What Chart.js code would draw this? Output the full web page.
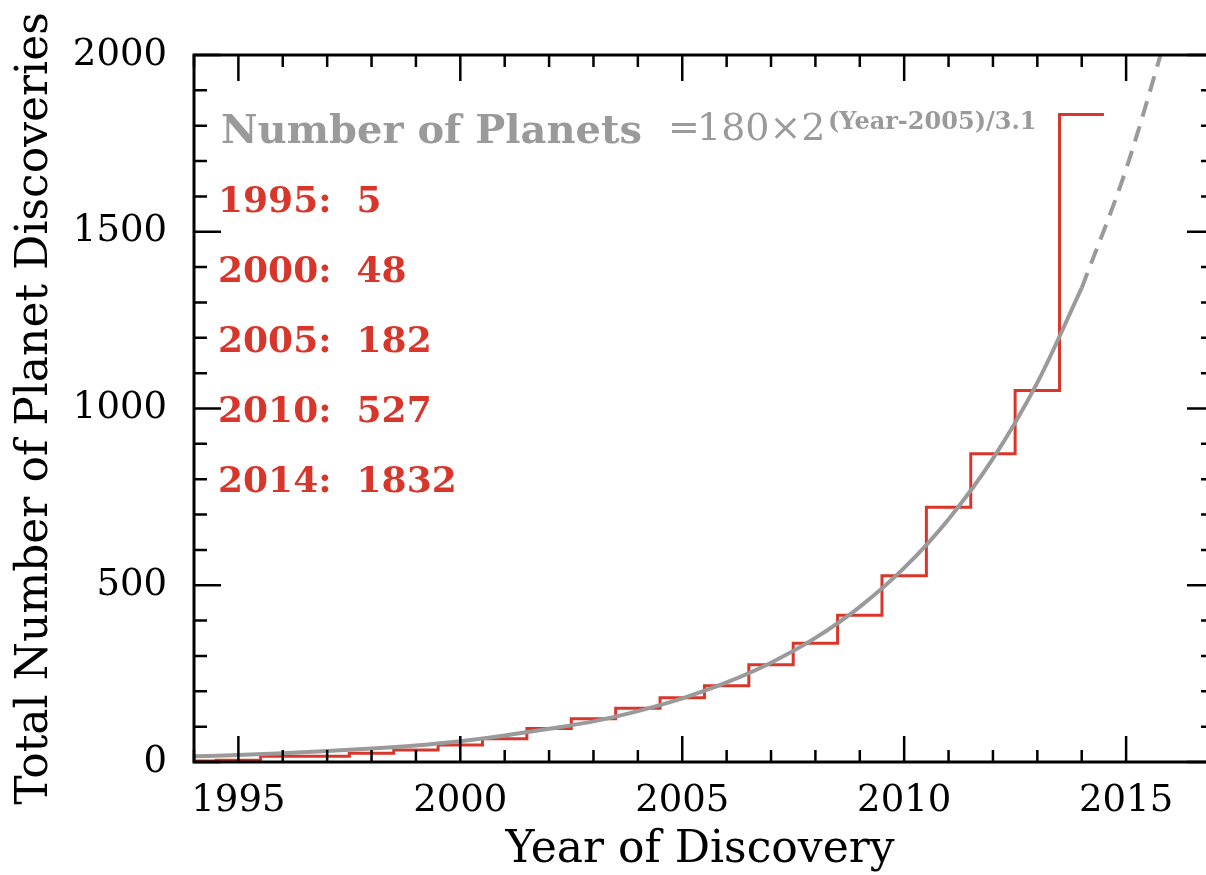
<!DOCTYPE html>
<html>
<head>
<meta charset="utf-8">
<title>Total Number of Planet Discoveries</title>
<script src="https://cdn.jsdelivr.net/npm/chart.js@4.4.1/dist/chart.umd.min.js"></script>
<style>
  body { margin: 0; background: #fff; }
  #wrap { width: 1206px; height: 875px; }
</style>
</head>
<body>
<div id="wrap"><canvas id="chart" width="1206" height="875"></canvas></div>
<script>
// cumulative number of planets at the end of each year
const years = [1994, 1995, 1996, 1997, 1998, 1999, 2000, 2001, 2002, 2003, 2004,
  2005, 2006, 2007, 2008, 2009, 2010, 2011, 2012, 2013, 2014];
const totals = [3, 5, 16, 16, 25, 34, 48, 66, 95, 122, 152,
  182, 216, 275, 336, 415, 527, 721, 872, 1051, 1832];

// grey fitted curve, read at whole years (solid part)
const fitYears = [1994, 1995, 1996, 1997, 1998, 1999, 2000, 2001, 2002, 2003, 2004,
  2005, 2006, 2007, 2008, 2009, 2010, 2011, 2012, 2013, 2014];
const fitValues = [16, 20, 25, 31, 38, 47, 59, 75, 94, 115, 144,
  180, 225, 281, 351, 439, 549, 687, 858, 1073, 1341];

// dashed extrapolation of the fit
const extraYears = [2014, 2015, 2016];
const extraValues = [1341, 1677, 2096];

// years quoted in the red text
const calloutYears = [1995, 2000, 2005, 2010, 2014];

const red = "#d8362b";
const grey = "#9a9a9a";
const serif = "DejaVu Serif";

// red steps are centred on each year
const steps = years.map((yr, i) => ({ x: yr - 0.5, y: totals[i] }));
steps.push({ x: years[years.length - 1] + 0.5, y: totals[totals.length - 1] });

// frame with inward ticks on all four sides
const frameTicks = {
  id: "frameTicks",
  afterDatasetsDraw(chart) {
    const { ctx, chartArea: a, scales: { x, y } } = chart;
    const right = a.right + 8;
    ctx.save();
    ctx.strokeStyle = "#000";
    ctx.lineWidth = 3;
    ctx.beginPath();
    ctx.moveTo(right, a.top);
    ctx.lineTo(a.left, a.top);
    ctx.lineTo(a.left, a.bottom);
    ctx.lineTo(right, a.bottom);
    ctx.stroke();

    ctx.lineWidth = 2.5;
    ctx.beginPath();
    x.ticks.forEach((t) => {
      if (!Number.isInteger(t.value)) return;
      const px = x.getPixelForValue(t.value);
      const len = t.value % 5 === 0 ? 26 : 12;
      ctx.moveTo(px, a.bottom);
      ctx.lineTo(px, a.bottom - len);
      ctx.moveTo(px, a.top);
      ctx.lineTo(px, a.top + len);
    });
    y.ticks.forEach((t) => {
      const py = y.getPixelForValue(t.value);
      const len = t.value % 500 === 0 ? 27 : 13;
      ctx.moveTo(a.left, py);
      ctx.lineTo(a.left + len, py);
      ctx.moveTo(right, py);
      ctx.lineTo(right - len, py);
    });
    ctx.stroke();
    ctx.restore();
  },
};

// formula and the quoted totals
const notes = {
  id: "notes",
  afterDraw(chart) {
    const { ctx, chartArea: a } = chart;
    const left = a.left + 26;
    ctx.save();
    ctx.textBaseline = "alphabetic";
    ctx.textAlign = "left";

    ctx.fillStyle = grey;
    ctx.font = `bold 40px "${serif}"`;
    ctx.fillText("Number of Planets", left + 1, 143);
    ctx.font = `38px "${serif}"`;
    ctx.fillText("=", 668, 140);
    ctx.fillText("180\u00d72", 697, 140);
    ctx.font = `bold 24px "${serif}"`;
    ctx.fillText("(Year-2005)/3.1", 828, 129);

    ctx.fillStyle = red;
    ctx.font = `bold 36px "${serif}"`;
    calloutYears.forEach((yr, i) => {
      const n = totals[years.indexOf(yr)];
      ctx.fillText(`${yr}:  ${n}`, left - 2, 212 + i * 70);
    });
    ctx.restore();
  },
};

new Chart(document.querySelector("#chart"), {
  type: "line",
  data: {
    datasets: [
      {
        label: "fit",
        data: fitYears.map((yr, i) => ({ x: yr, y: fitValues[i] })),
        borderColor: grey,
        borderWidth: 4,
        pointRadius: 0,
        cubicInterpolationMode: "monotone",
        order: 0,
      },
      {
        label: "fit extrapolated",
        data: extraYears.map((yr, i) => ({ x: yr, y: extraValues[i] })),
        borderColor: grey,
        borderWidth: 4,
        borderDash: [16, 10],
        pointRadius: 0,
        cubicInterpolationMode: "monotone",
        order: 0,
      },
      {
        label: "total",
        data: steps,
        borderColor: red,
        borderWidth: 3,
        stepped: "before",
        pointRadius: 0,
        order: 1,
      },
    ],
  },
  options: {
    responsive: false,
    animation: false,
    layout: { padding: { top: 55, right: 0, bottom: 0, left: 0 } },
    plugins: { legend: { display: false }, tooltip: { enabled: false } },
    scales: {
      x: {
        type: "linear",
        min: 1994,
        max: 2016.8,
        grid: { display: false, drawTicks: false },
        border: { display: false },
        ticks: {
          stepSize: 1,
          autoSkip: false,
          maxRotation: 0,
          minRotation: 0,
          padding: 17,
          color: "#000",
          font: { family: serif, size: 37 },
          callback: (v) => (v % 5 === 0 ? String(v) : ""),
        },
        title: {
          display: true,
          text: "Year of Discovery",
          color: "#000",
          font: { family: serif, size: 44, lineHeight: 1.1 },
          padding: { top: 0, bottom: 0 },
        },
        afterFit: (s) => {
          s.height = 113;
          s.paddingLeft = 0;
          s.paddingRight = 0;
        },
      },
      y: {
        min: 0,
        max: 2000,
        grid: { display: false, drawTicks: false },
        border: { display: false },
        ticks: {
          stepSize: 100,
          autoSkip: false,
          padding: 27,
          color: "#000",
          font: { family: serif, size: 37 },
          callback: (v) => (v % 500 === 0 ? String(v) : ""),
        },
        title: {
          display: true,
          text: "Total Number of Planet Discoveries",
          color: "#000",
          font: { family: serif, size: 44 },
          padding: { top: 9, bottom: 0 },
        },
        afterFit: (s) => { s.width = 194; },
      },
    },
  },
  plugins: [frameTicks, notes],
});
</script>
</body>
</html>
